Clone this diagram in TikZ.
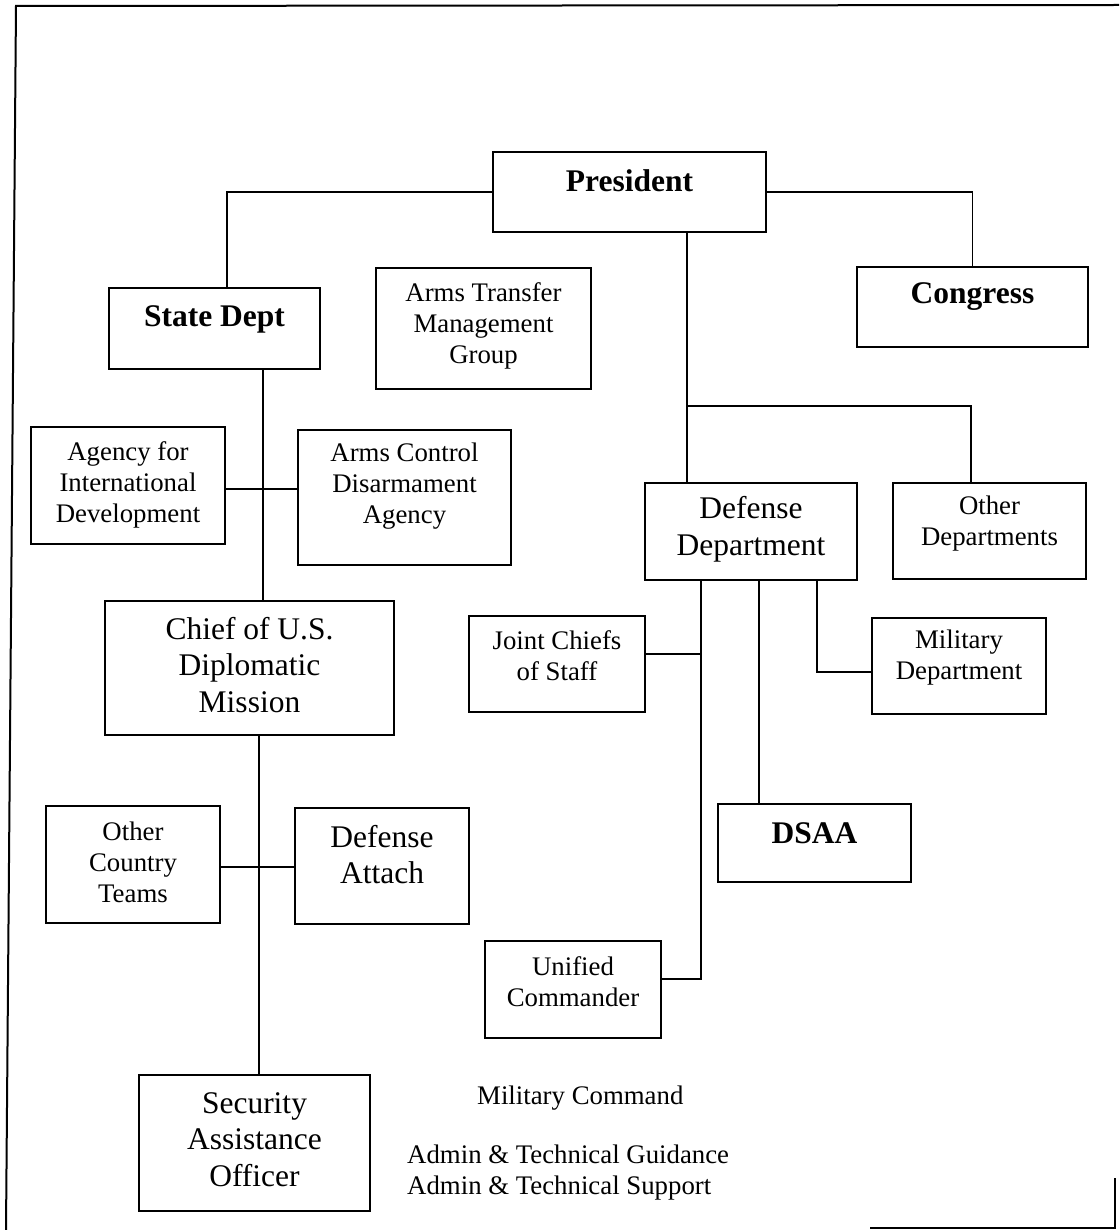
\documentclass[tikz,border=0pt]{standalone}
\usepackage{fontspec}
\setmainfont{Liberation Serif}
\usetikzlibrary{calc}

\begin{document}
\begin{tikzpicture}[x=1pt, y=-1pt,
    box/.style={draw, rectangle, line width=1.8pt, inner sep=0pt},
    txt/.style={align=center, inner sep=0pt, font=\fontsize{26.8}{31}\selectfont},
    bigtxt/.style={align=center, inner sep=0pt, font=\fontsize{31.5}{36.5}\selectfont},
    boldtxt/.style={align=center, inner sep=0pt, font=\fontsize{31.5}{36}\selectfont\bfseries},
    link/.style={line width=1.6pt},
    heavy/.style={line width=2.6pt}]
    \useasboundingbox (0,0) rectangle (1119,1230);

    % 外框 (扫描件的边线)
    \draw[line width=2pt] (6,1230) -- (16,6) -- (1119,5);
    \draw[line width=2pt] (870,1228) -- (1115,1228) -- (1115,1178);

    % 上层: 总统, 国会, 国务院
    \node[box, minimum width=273pt, minimum height=80pt] (pres) at (629.5,192) {};
    \node[boldtxt] (presT) at (629.5,181) {President};
    \node[box, minimum width=231pt, minimum height=80pt] (cong) at (972.5,307) {};
    \node[boldtxt] (congT) at (972.5,297) {Congress};
    \node[box, minimum width=211pt, minimum height=81pt] (state) at (214.5,328.5) {};
    \node[boldtxt] (stateT) at (214.5,319) {State Dept};
    \node[box, minimum width=215pt, minimum height=121pt] (atmg) at (483.5,328.5) {};
    \node[txt] (atmgT) at (483.5,325.5) {Arms Transfer\\Management\\Group};

    % 国务院一侧
    \node[box, minimum width=194pt, minimum height=117pt] (aid) at (128,485.5) {};
    \node[txt] (aidT) at (128,485) {Agency for\\International\\Development};
    \node[box, minimum width=213pt, minimum height=135pt] (acda) at (404.5,497.5) {};
    \node[txt] (acdaT) at (404.5,486.5) {Arms Control\\Disarmament\\Agency};
    \node[box, minimum width=289pt, minimum height=134pt] (chief) at (249.5,668) {};
    \node[bigtxt] (chiefT) at (249.5,665) {Chief of U.S.\\Diplomatic\\Mission};
    \node[box, minimum width=174pt, minimum height=117pt] (oct) at (133,864.5) {};
    \node[txt] (octT) at (133,862) {Other\\Country\\Teams};
    \node[box, minimum width=174pt, minimum height=116pt] (dat) at (382,866) {};
    \node[bigtxt] (datT) at (382,854.5) {Defense\\Attach};
    \node[box, minimum width=231pt, minimum height=136pt] (sao) at (254.5,1143) {};
    \node[bigtxt] (saoT) at (254.5,1139.5) {Security\\Assistance\\Officer};

    % 国防部一侧
    \node[box, minimum width=212pt, minimum height=97pt] (dod) at (751,531.5) {};
    \node[bigtxt] (dodT) at (751,529.5) {Defense\\Department};
    \node[box, minimum width=193pt, minimum height=96pt] (othd) at (989.5,531) {};
    \node[txt] (othdT) at (989.5,523.5) {Other\\Departments};
    \node[box, minimum width=176pt, minimum height=96pt] (jcs) at (557,664) {};
    \node[txt] (jcsT) at (557,655.5) {Joint Chiefs\\of Staff};
    \node[box, minimum width=174pt, minimum height=96pt] (mild) at (959,666) {};
    \node[txt] (mildT) at (959,658) {Military\\Department};
    \node[box, minimum width=193pt, minimum height=78pt] (dsaa) at (814.5,843) {};
    \node[boldtxt] (dsaaT) at (814.5,833) {DSAA};
    \node[box, minimum width=176pt, minimum height=97pt] (uc) at (573,989.5) {};
    \node[txt] (ucT) at (573,981.5) {Unified\\Commander};

    % 图例文字
    \node[txt, anchor=west] (legCmd) at (477,1098) {Military Command};
    \node[txt, anchor=west, align=left] (legAdm) at (407,1173) {Admin \& Technical Guidance\\Admin \& Technical Support};

    % 连线
    \coordinate (trunk) at (687,406);
    \coordinate (ddl) at ([xshift=-50pt]dod.south);
    \draw[link] (pres.west) -| ([xshift=12.5pt]state.north);
    \draw[link] (pres.east) -| (cong.north);
    \draw[link] ([xshift=57.5pt]pres.south) -- (trunk |- dod.north);
    \draw[link] (trunk) -| ([xshift=-18.5pt]othd.north);
    \draw[link] ([xshift=48.5pt]state.south) -- ([xshift=48.5pt]state.south |- chief.north);
    \draw[heavy] ([yshift=-3.5pt]aid.east) -- ([yshift=-3.5pt]aid.east -| acda.west);
    \draw[link] ([xshift=9.5pt]chief.south) -- ([xshift=9.5pt]chief.south |- sao.north);
    \draw[heavy] ([yshift=-2.5pt]oct.east) -- ([yshift=-2.5pt]oct.east -| dat.west);
    \draw[link] (ddl) |- ([yshift=10.5pt]uc.east);
    \draw[heavy] ([yshift=10pt]jcs.east) -- ([yshift=10pt]jcs.east -| ddl);
    \draw[heavy] ([xshift=8pt]dod.south) -- ([xshift=-55.5pt]dsaa.north);
    \draw[link] ([xshift=66pt]dod.south) |- ([yshift=-6pt]mild.west);
\end{tikzpicture}
\end{document}
